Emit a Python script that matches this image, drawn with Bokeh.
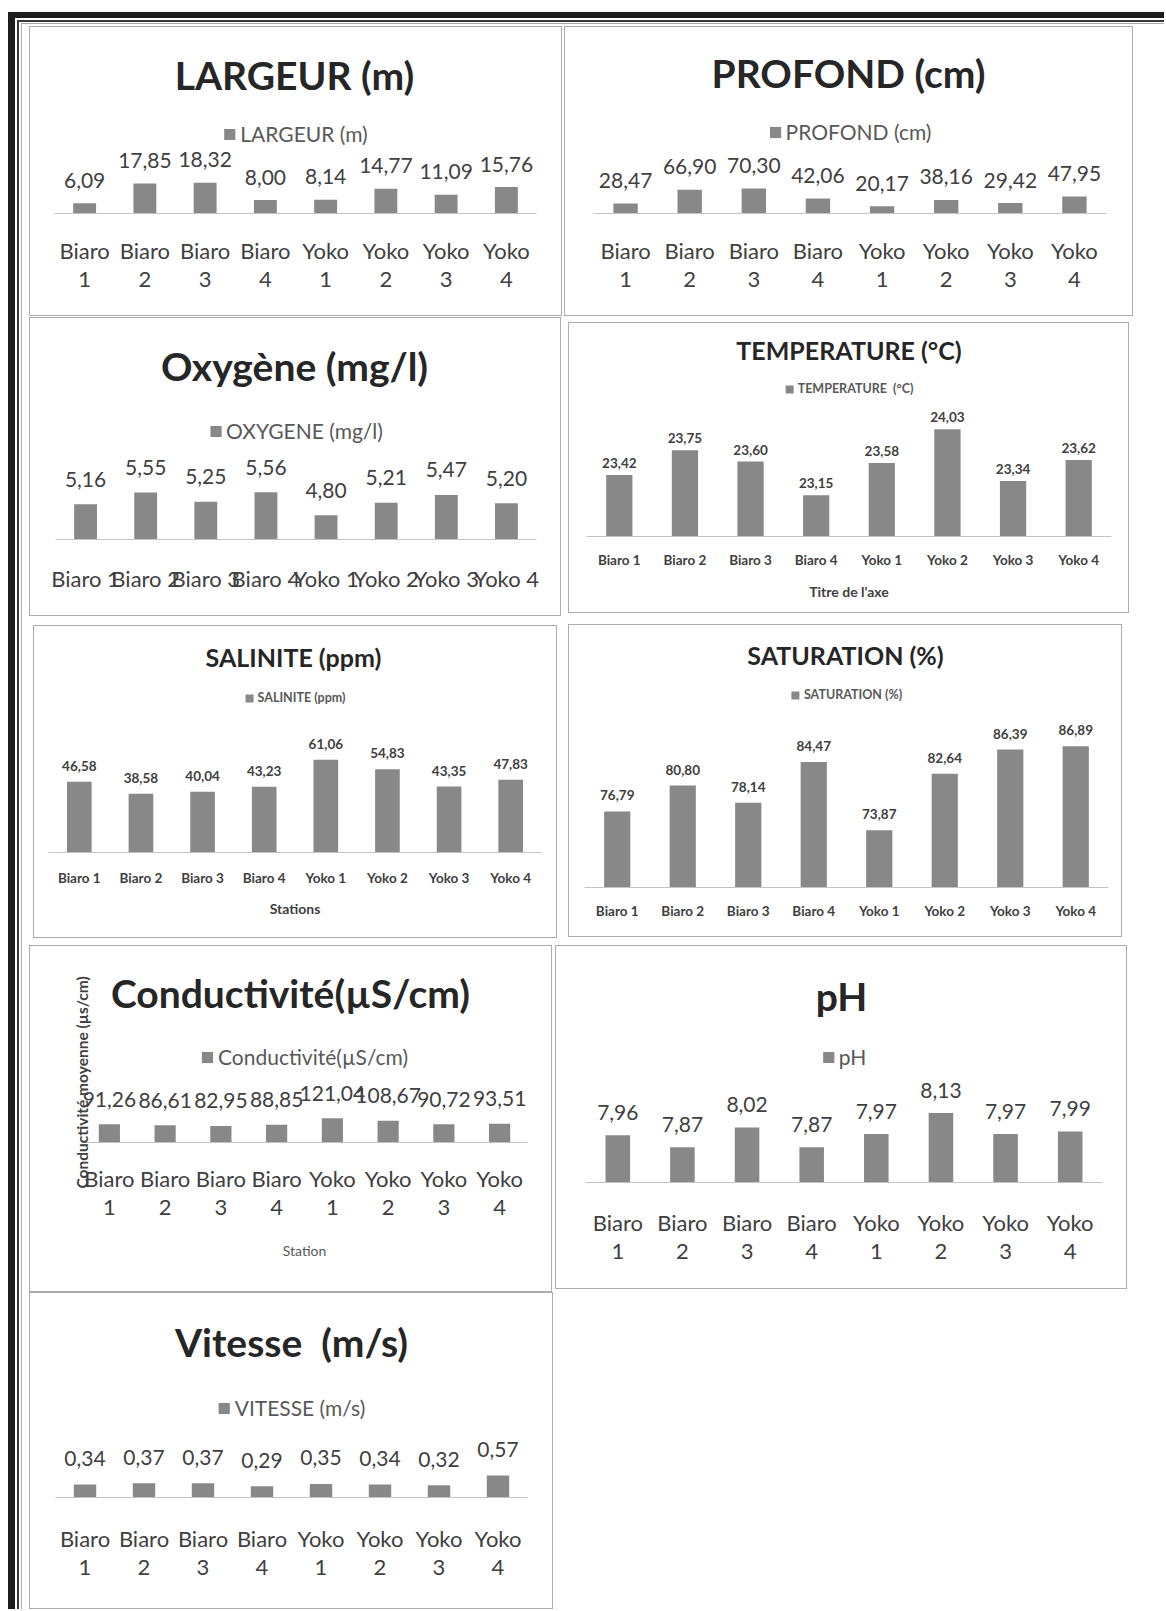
import math
from bokeh.plotting import figure
from bokeh.layouts import row, column
from bokeh.models import (ColumnDataSource, Range1d, Label, Legend, LegendItem, Spacer,
                          FactorRange, CategoricalAxis, Title, CustomJSTickFormatter)
from bokeh.core.properties import value
from bokeh.embed import file_html
from bokeh.resources import INLINE

# ---------------- data ----------------
STATIONS = ["Biaro 1", "Biaro 2", "Biaro 3", "Biaro 4", "Yoko 1", "Yoko 2", "Yoko 3", "Yoko 4"]
LARGEUR = [6.09, 17.85, 18.32, 8.00, 8.14, 14.77, 11.09, 15.76]
PROFOND = [28.47, 66.90, 70.30, 42.06, 20.17, 38.16, 29.42, 47.95]
OXYGENE = [5.16, 5.55, 5.25, 5.56, 4.80, 5.21, 5.47, 5.20]
TEMPERATURE = [23.42, 23.75, 23.60, 23.15, 23.58, 24.03, 23.34, 23.62]
SALINITE = [46.58, 38.58, 40.04, 43.23, 61.06, 54.83, 43.35, 47.83]
SATURATION = [76.79, 80.80, 78.14, 84.47, 73.87, 82.64, 86.39, 86.89]
CONDUCTIVITE = [91.26, 86.61, 82.95, 88.85, 121.04, 108.67, 90.72, 93.51]
PH = [7.96, 7.87, 8.02, 7.87, 7.97, 8.13, 7.97, 7.99]
VITESSE = [0.34, 0.37, 0.37, 0.29, 0.35, 0.34, 0.32, 0.57]

FONT = "Lato"
BAR = "#888888"
DARK = "#262626"
LBL = "#404040"
LEG = "#595959"
PANEL_LINE = "#acacac"
NB = "\u00a0"


def fmt(v):
    return f"{v:.2f}".replace(".", ",")


BIG = dict(tfs=39, lfs=21, lh=25, gw=14, dfs=21, xfs=22, bold=False, bw=0.38)
SMALL = dict(tfs=25, lfs=12.5, lh=15, gw=10, dfs=13.5, xfs=13.5, bold=True, bw=0.4)


def style_axis(ax, st, standoff, line=True):
    ax.axis_line_color = "#c4c4c4" if line else None
    ax.axis_line_width = 1
    ax.major_tick_line_color = None
    ax.minor_tick_line_color = None
    ax.major_tick_in = 0
    ax.major_tick_out = 0
    ax.major_label_text_font = FONT
    ax.major_label_text_font_size = f"{st['xfs']}px"
    ax.major_label_text_color = LBL
    ax.major_label_text_font_style = "bold" if st["bold"] else "normal"
    ax.major_label_standoff = standoff


def build(values, title, legend, W, H, fl, fr, fb, pxu, ymin, title_y, title_dx, legend_y,
          off, xstand, two_line, style, axis_title=None, at_stand=0, at_fs=14,
          at_color=LBL, at_bold=True, ylabel=None, ylabel_offset=0, ylabel_standoff=0):
    st = style
    frame_h = H - 1 - fb
    frame_w = W - fl - fr
    base = H - fb
    ymax = ymin + frame_h / pxu
    cat_w = frame_w / len(STATIONS)
    p = figure(x_range=FactorRange(*STATIONS), y_range=Range1d(ymin, ymax),
               width=W, height=H, min_border_left=fl, min_border_right=fr,
               min_border_top=1, min_border_bottom=fb, toolbar_location=None,
               output_backend="svg", y_axis_location=None,
               border_fill_color=None, background_fill_color=None, outline_line_color=None,
               styles={"outline": f"1px solid {PANEL_LINE}", "outline-offset": "-1px"})
    p.xgrid.visible = False
    p.ygrid.visible = False
    src = ColumnDataSource(dict(x=STATIONS, top=values, label=[fmt(v) for v in values]))
    r = p.vbar(x="x", top="top", bottom=ymin, width=st["bw"], source=src,
               fill_color=BAR, line_color=None)
    p.text(x="x", y="top", text="label", source=src, y_offset=-off,
           text_align="center", text_baseline="middle", text_font=value(FONT),
           text_font_size=f"{st['dfs']}px", text_color=LBL,
           text_font_style="bold" if st["bold"] else "normal")

    ax = p.xaxis[0]
    style_axis(ax, st, xstand)
    last = ax
    if two_line:
        # station name on the first line, station number on the second
        ax.formatter = CustomJSTickFormatter(code="return String(tick).split(' ')[0];")
        ax2 = CategoricalAxis(formatter=CustomJSTickFormatter(
            code="return String(tick).split(' ')[1];"))
        p.add_layout(ax2, "below")
        style_axis(ax2, st, 5, line=False)
        last = ax2
    if axis_title:
        last.axis_label = axis_title
        last.axis_label_text_font = FONT
        last.axis_label_text_font_size = f"{at_fs}px"
        last.axis_label_text_font_style = "bold" if at_bold else "normal"
        last.axis_label_text_color = at_color
        last.axis_label_standoff = at_stand

    p.add_layout(Label(x=len(STATIONS) / 2 + title_dx / cat_w,
                       y=ymin + (base - title_y) / pxu, text=title,
                       text_align="center", text_baseline="middle", text_font=FONT,
                       text_font_size=f"{st['tfs']}px", text_font_style="bold",
                       text_color=DARK))
    leg = Legend(items=[LegendItem(label=value(legend), renderers=[r])],
                 location="top_center", orientation="horizontal",
                 margin=int(round(legend_y - 1 - st["lh"] / 2)), padding=0, spacing=0,
                 glyph_width=st["gw"], glyph_height=st["gw"], label_height=st["lh"],
                 label_standoff=4, label_text_font=FONT,
                 label_text_font_size=f"{st['lfs']}px", label_text_color=LEG,
                 label_text_font_style="bold" if st["bold"] else "normal",
                 border_line_color=None, background_fill_alpha=0)
    p.add_layout(leg)
    if ylabel:
        p.add_layout(Title(text=ylabel, align="left", offset=ylabel_offset,
                           standoff=ylabel_standoff, text_font=FONT,
                           text_font_size="15.5px", text_font_style="bold",
                           text_color=LBL), "left")
    return p


p_larg = build(LARGEUR, "LARGEUR (m)", "LARGEUR (m)", 533, 290, 25, 26, 103, 1.68, 0,
               48, -1, 107, 23, 23, True, BIG)
p_prof = build(PROFOND, "PROFOND (cm)", "PROFOND (cm)", 569, 290, 29, 27, 103, 0.355, 0,
               46, -1.5, 105, 23, 23, True, BIG)
p_oxy = build(OXYGENE, "Oxygène (mg/l)", "OXYGENE (mg/l)", 532, 299, 26, 25, 77, 30.3, 4.0,
              48, -1.5, 113, 25, 25, False, BIG)
p_temp = build(TEMPERATURE, "TEMPERATURE (°C)", f"TEMPERATURE{NB}{NB}(°C)", 561, 291, 18, 18, 77,
               75, 22.6, 27, 0, 66, 12, 15, False, SMALL,
               axis_title="Titre de l'axe", at_stand=12, at_fs=14)
p_sal = build(SALINITE, "SALINITE (ppm)", "SALINITE (ppm)", 524, 313, 15, 16, 86, 1.52, 0,
              31, -1.5, 72, 16, 17, False, SMALL,
              axis_title="Stations", at_stand=11, at_fs=14)
p_sat = build(SATURATION, "SATURATION (%)", "SATURATION (%)", 554, 313, 16, 14, 50, 6.45, 65,
              30, -1, 71, 16, 15, False, SMALL)
p_cond = build(CONDUCTIVITE, "Conductivité(µS/cm)", "Conductivité(µS/cm)", 523, 347, 52, 25,
               150, 0.2, 0, 47, -14, 111, 25, 22, True, BIG,
               axis_title="Station", at_stand=24, at_fs=14, at_color="#595959", at_bold=False,
               ylabel="Conductivité moyenne (µs/cm)", ylabel_offset=-46, ylabel_standoff=-18)
p_ph = build(PH, "pH", "pH", 572, 344, 30, 25, 107, 131, 7.6,
             50, -2.5, 112, 23, 26, True, BIG)
p_vit = build(VITESSE, f"Vitesse{NB}{NB}(m/s)", "VITESSE (m/s)", 524, 317, 26, 26, 112, 38.6, 0,
              49, 0, 116, 26, 27, True, BIG)


def sp(w, h, color=None):
    if color:
        return Spacer(width=w, height=h, styles={"background-color": color})
    return Spacer(width=w, height=h)


BLACK = "#1c1c1c"
DLINE = "#3a3a3a"
LLINE = "#a8a8a8"

band1 = column(sp(1, 2), row(sp(7, 1), p_larg, sp(2, 1), p_prof))
band2 = row(sp(7, 1), column(sp(1, 1), p_oxy), sp(7, 1), column(sp(1, 6), p_temp))
band3 = row(sp(11, 1), column(sp(1, 9), p_sal), sp(11, 1), column(sp(1, 8), p_sat))
band4 = row(sp(7, 1), column(sp(1, 7), p_cond), sp(3, 1), column(sp(1, 7), p_ph))
band5 = row(sp(7, 1), p_vit)
content = column(band1, band2, band3, band4, band5)

# document frame: black band, dark line, light line
lvl3 = column(sp(1, 1), sp(1143, 1, LLINE), row(sp(1, 1585, LLINE), content))
lvl2 = column(sp(1, 2), sp(1147, 2, DLINE), row(sp(2, 1587, DLINE), sp(2, 1), lvl3))
lvl1 = column(sp(1156, 6, BLACK), row(sp(7, 1591, BLACK), sp(2, 1), lvl2))
root = column(sp(1156, 12), row(sp(8, 1), lvl1))

open("out.html", "w").write(file_html(root, INLINE))
